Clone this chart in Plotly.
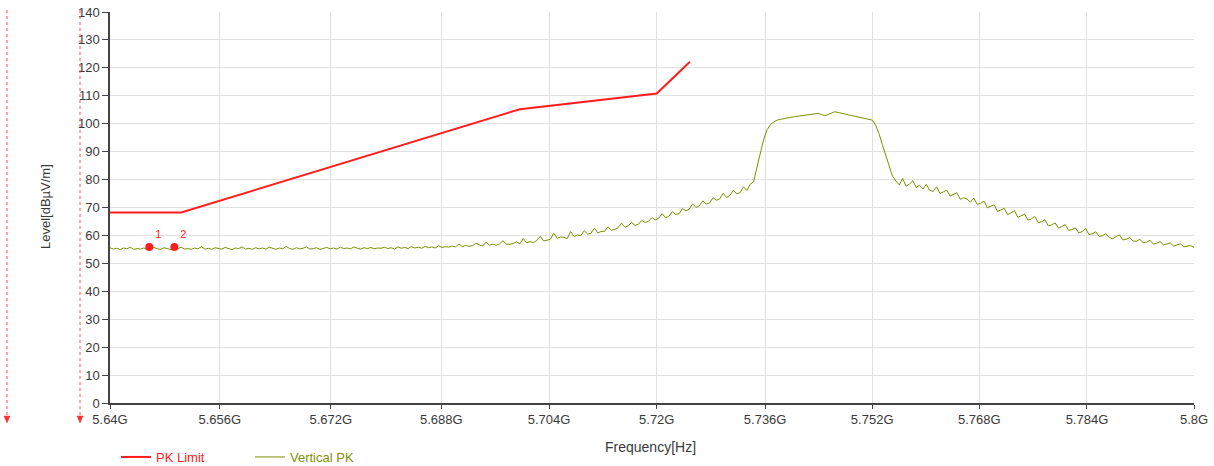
import numpy as np
import plotly.graph_objects as go

# ---------------- data ----------------
# PK limit (GHz, dBuV/m)
limit_freq = [5.640, 5.6505, 5.7005, 5.7207, 5.7256]
limit_level = [68.2, 68.2, 105.2, 110.8, 122.2]

# Vertical PK sweep: 5.64 GHz .. 5.80 GHz, 0.5 MHz steps
sweep_start = 5.640
sweep_stop = 5.800
pk_level = [
    55.6, 55.1, 55.4, 54.9, 55.5, 55.2, 55.8, 55.0, 55.3, 55.1,
    55.5, 54.9, 55.4, 55.7, 55.2, 55.0, 55.6, 55.3, 54.9, 55.4,
    55.2, 55.8, 55.1, 55.3, 55.0, 55.5, 55.2, 56.0, 55.1, 55.4,
    55.0, 55.6, 55.3, 55.1, 55.7, 55.2, 54.9, 55.5, 55.3, 55.9,
    55.1, 55.4, 55.0, 55.6, 55.2, 55.5, 55.1, 55.8, 55.3, 55.0,
    55.5, 55.2, 56.1, 55.3, 55.0, 55.6, 55.2, 55.4, 55.9, 55.1,
    55.3, 55.6, 55.0, 55.4, 55.7, 55.2, 55.5, 55.1, 55.8, 55.3,
    55.5, 55.2, 55.9, 55.4, 55.1, 55.6, 55.3, 55.7, 55.2, 55.5,
    55.4, 55.8, 55.3, 55.6, 55.1, 55.9, 55.4, 55.7, 55.3, 56.0,
    55.5, 55.8, 55.4, 56.1, 55.6, 55.9, 55.5, 56.3, 55.7, 56.0,
    55.8, 56.2, 55.9, 56.9, 56.0, 56.4, 56.1, 56.3, 57.2, 56.6,
    56.2, 57.6, 56.5, 56.9, 56.4, 57.0, 58.1, 56.9, 56.8, 57.1,
    57.7, 57.0, 58.9, 57.3, 57.8, 57.4, 58.2, 59.7, 58.0, 58.3,
    58.6, 60.8, 59.0, 59.4, 59.3, 58.9, 61.4, 59.6, 60.2, 59.9,
    61.7, 60.5, 60.8, 62.6, 60.9, 61.4, 61.5, 63.1, 61.9, 62.1,
    62.8, 64.4, 62.9, 63.5, 64.6, 63.6, 64.0, 65.4, 64.6, 65.1,
    66.4, 65.5, 66.2, 67.8, 66.3, 66.9, 68.5, 67.5, 67.8, 69.6,
    68.8, 69.4, 71.3, 70.0, 70.6, 72.4, 71.2, 71.6, 73.5, 72.6,
    73.1, 75.1, 73.6, 74.3, 76.2, 74.9, 75.3, 77.4, 76.1, 78.3,
    79.2, 84.5, 89.0, 94.5, 97.9, 99.7, 100.7, 101.3,
    101.6, 101.9, 102.1, 102.3, 102.5, 102.7, 102.9, 103.1, 103.3, 103.5, 103.6, 103.7,
    103.3, 102.9, 103.3, 103.9, 104.3, 104.0,
    103.8, 103.5, 103.2, 102.9, 102.6, 102.3, 102.0, 101.8, 101.6, 101.3,
    99.5, 96.5, 92.5, 88.5, 84.5, 81.2, 79.5,
    78.1, 80.4, 77.6, 78.4, 79.6, 77.2, 78.0,
    76.6, 78.3, 76.1, 75.8, 77.4, 75.0, 75.6, 76.2, 74.1, 74.6,
    75.3, 72.9, 73.5, 73.0, 71.9, 73.4, 71.1, 71.5, 72.3, 69.9,
    70.6, 71.0, 68.6, 69.2, 69.7, 67.4, 68.3, 68.9, 66.5, 67.0,
    67.6, 65.5, 65.9, 66.8, 64.6, 64.9, 65.6, 63.4, 63.8, 64.5,
    62.6, 63.2, 63.9, 61.8, 62.1, 62.7, 60.9, 61.4, 62.5, 60.3,
    60.6, 61.3, 59.7, 59.9, 60.6, 59.2, 58.8, 59.6, 60.2, 58.4,
    58.6, 59.3, 58.0, 57.9, 58.6, 57.4, 57.6, 58.3, 56.9, 57.2,
    57.8, 56.6, 56.9, 57.3, 56.2, 56.5, 57.0, 55.9, 56.1, 56.4, 55.7,
]
pk_freq = np.linspace(sweep_start, sweep_stop, len(pk_level))

# Markers
marker_freq = [5.6458, 5.6495]
marker_level = [55.9, 55.9]
marker_label = ["1", "2"]

# Axis ticks (positions as found in the picture; labels rounded)
x_tick_vals = [5.6400, 5.6562, 5.6726, 5.6889, 5.7048, 5.7207,
               5.7367, 5.7525, 5.7683, 5.7842, 5.8000]
x_tick_text = ["5.64G", "5.656G", "5.672G", "5.688G", "5.704G", "5.72G",
               "5.736G", "5.752G", "5.768G", "5.784G", "5.8G"]
y_tick_vals = list(range(0, 141, 10))

# ---------------- style ----------------
RED = "#ff1c1c"
OLIVE = "#7f9000"
FONT = "Liberation Sans, Arial, sans-serif"
TXT = "#3a3a3a"
GRID = "#e1e1e1"
AXIS = "#444444"

W, H = 1214, 466
ML, MR, MT, MB = 110, 20, 12, 63
PW, PH = W - ML - MR, H - MT - MB


def px_x(x):
    return (x - ML) / PW


def px_y(y):
    return (H - MB - y) / PH


fig = go.Figure()

fig.add_trace(go.Scatter(
    x=limit_freq, y=limit_level, mode="lines",
    line=dict(color=RED, width=2),
    name="<span style='color:%s'>PK Limit</span>" % RED,
    hoverinfo="x+y",
))
fig.add_trace(go.Scatter(
    x=pk_freq, y=pk_level, mode="lines",
    line=dict(color=OLIVE, width=1),
    name="<span style='color:%s'>Vertical PK</span>" % OLIVE,
    hoverinfo="x+y",
))
fig.add_trace(go.Scatter(
    x=marker_freq, y=marker_level, mode="markers+text",
    marker=dict(color=RED, size=8),
    text=marker_label, textposition="top right",
    textfont=dict(color=RED, size=11, family=FONT),
    showlegend=False, hoverinfo="x+y",
))

shapes = []
annotations = []

# red dotted guide lines at the far left with arrowheads
for xp in (7, 80):
    shapes.append(dict(type="line", xref="paper", yref="paper",
                       x0=px_x(xp), x1=px_x(xp), y0=px_y(10), y1=px_y(417),
                       line=dict(color="#ff5050", width=1, dash="dot")))
    dx = 3 / PW
    shapes.append(dict(type="path", xref="paper", yref="paper",
                       path="M %f %f L %f %f L %f %f Z" % (
                           px_x(xp) - dx, px_y(416), px_x(xp) + dx, px_y(416),
                           px_x(xp), px_y(423)),
                       fillcolor="#ff3030", line=dict(color="#ff3030", width=0.5)))

annotations.append(dict(text="Level[dBµV/m]", xref="paper", yref="paper",
                        x=px_x(45), y=px_y(207), textangle=-90, showarrow=False,
                        xanchor="center", yanchor="middle",
                        font=dict(family=FONT, size=13, color=TXT)))
annotations.append(dict(text="Frequency[Hz]", xref="paper", yref="paper",
                        x=px_x(650), y=px_y(447), showarrow=False,
                        xanchor="center", yanchor="middle",
                        font=dict(family=FONT, size=14, color=TXT)))

fig.update_layout(
    width=W, height=H,
    margin=dict(l=ML, r=MR, t=MT, b=MB, autoexpand=False),
    paper_bgcolor="white", plot_bgcolor="white",
    font=dict(family=FONT, size=13, color=TXT),
    xaxis=dict(range=[5.64, 5.80], tickvals=x_tick_vals, ticktext=x_tick_text,
               showgrid=True, gridcolor=GRID, gridwidth=1,
               showline=True, linecolor=AXIS, linewidth=1.5,
               ticks="outside", ticklen=4, tickcolor=AXIS,
               zeroline=False, tickfont=dict(size=13, color=TXT, family=FONT)),
    yaxis=dict(range=[0, 140], tickvals=y_tick_vals,
               showgrid=True, gridcolor=GRID, gridwidth=1,
               showline=True, linecolor=AXIS, linewidth=1.5,
               ticks="outside", ticklen=6, tickcolor=AXIS,
               zeroline=False, tickfont=dict(size=13, color=TXT, family=FONT)),
    xaxis2=dict(range=[5.64, 5.80], tickvals=x_tick_vals, overlaying="x",
                showticklabels=False, showgrid=False, zeroline=False,
                ticks="inside", ticklen=4, tickcolor=AXIS, side="bottom"),
    yaxis2=dict(range=[0, 140], tickvals=y_tick_vals, overlaying="y",
                showticklabels=False, showgrid=False, zeroline=False,
                ticks="inside", ticklen=7, tickcolor=AXIS, side="left"),
    legend=dict(orientation="h", x=px_x(116), y=px_y(457),
                xanchor="left", yanchor="middle",
                font=dict(family=FONT, size=13),
                entrywidthmode="pixels", entrywidth=89,
                itemwidth=30, bgcolor="rgba(0,0,0,0)"),
    shapes=shapes,
    annotations=annotations,
    showlegend=True,
)

fig.write_html("out.html",
               config={"displayModeBar": False},
               post_script="document.body.style.margin='0';"
                           "document.body.style.overflow='hidden';")
